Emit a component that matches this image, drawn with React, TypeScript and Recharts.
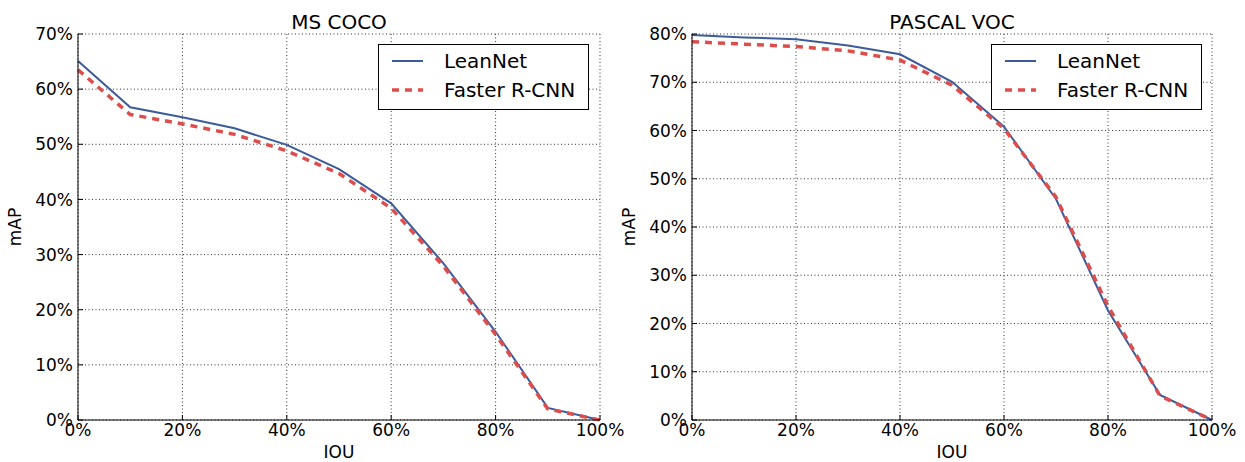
import React from 'react';
import { LineChart, Line, XAxis, YAxis, CartesianGrid, Legend } from 'recharts';

const iouValues = [0, 10, 20, 30, 40, 50, 60, 70, 80, 90, 100];
const cocoLeanNet = [65.1, 56.7, 54.9, 52.9, 49.9, 45.5, 39.3, 28.4, 16.0, 2.2, 0];
const cocoFaster = [63.5, 55.4, 53.7, 51.8, 48.8, 44.7, 38.4, 27.9, 15.5, 2.0, 0];
const vocLeanNet = [79.8, 79.3, 78.9, 77.6, 75.8, 70.1, 60.8, 45.8, 22.7, 5.2, 0];
const vocFaster = [78.4, 77.9, 77.4, 76.5, 74.6, 69.4, 60.4, 46.2, 23.6, 5.0, 0];
const xTicks = [0, 20, 40, 60, 80, 100];
const cocoYTicks = [0, 10, 20, 30, 40, 50, 60, 70];
const vocYTicks = [0, 10, 20, 30, 40, 50, 60, 70, 80];
const seriesNames = ['LeanNet', 'Faster R-CNN'];
const panelTitles = ['MS COCO', 'PASCAL VOC'];

const FONT = "'DejaVu Sans', sans-serif";
const BLUE = '#3b5b9b';
const RED = '#dc4d4b';
const TICK_FS = 17;
const TICK_LEN = 5;

const buildRows = (a: number[], b: number[]) =>
  iouValues.map((x, i) => ({ iou: x, lean: a[i], faster: b[i] }));

const LeftTick = (props: any) => {
  const { x, y, payload } = props;
  const ax = x + 5;
  return (
    <g>
      <line x1={ax} x2={ax + TICK_LEN} y1={y} y2={y} stroke="#000" strokeWidth={1} />
      <text x={x} y={y} dy="0.36em" textAnchor="end" fontSize={TICK_FS} fontFamily={FONT} fill="#000">
        {payload.value + '%'}
      </text>
    </g>
  );
};
const BottomTick = (props: any) => {
  const { x, y, payload } = props;
  const ay = y - 3;
  return (
    <g>
      <line x1={x} x2={x} y1={ay} y2={ay - TICK_LEN} stroke="#000" strokeWidth={1} />
      <text x={x} y={y} dy="0.76em" textAnchor="middle" fontSize={TICK_FS} fontFamily={FONT} fill="#000">
        {payload.value + '%'}
      </text>
    </g>
  );
};
const TopTick = (props: any) => {
  const { x, y } = props;
  return <line x1={x} x2={x} y1={y} y2={y + TICK_LEN} stroke="#000" strokeWidth={1} />;
};
const RightTick = (props: any) => {
  const { x, y } = props;
  return <line x1={x} x2={x - TICK_LEN} y1={y} y2={y} stroke="#000" strokeWidth={1} />;
};

const LegendBox = () => (
  <div
    style={{
      width: 209,
      height: 64,
      border: '1px solid #000',
      background: '#fff',
      position: 'relative',
      fontFamily: FONT,
      fontSize: 20,
      color: '#000',
    }}
  >
    <svg width={209} height={64} style={{ position: 'absolute', left: 0, top: 0 }}>
      <line x1={13} x2={44} y1={16} y2={16} stroke={BLUE} strokeWidth={2} />
      <line x1={13} x2={44} y1={45} y2={45} stroke={RED} strokeWidth={3.5} strokeDasharray="7 6" />
      <text x={65} y={16} dy="0.36em" fontSize={20} fontFamily={FONT}>{seriesNames[0]}</text>
      <text x={65} y={45} dy="0.36em" fontSize={20} fontFamily={FONT}>{seriesNames[1]}</text>
    </svg>
  </div>
);

type PanelProps = {
  rows: any[];
  yMax: number;
  yTicks: number[];
  width: number;
  yAxisWidth: number;
  marginRight: number;
  legendLeft: number;
  mapOffset: number;
};

const Panel = ({ rows, yMax, yTicks, width, yAxisWidth, marginRight, legendLeft, mapOffset }: PanelProps) => (
  <LineChart
    width={width}
    height={462}
    data={rows}
    margin={{ top: 34, right: marginRight, bottom: 0, left: 0 }}
  >
    <CartesianGrid stroke="#000" strokeOpacity={0.8} strokeDasharray="1 2.5" strokeWidth={1} />
    <XAxis
      dataKey="iou"
      type="number"
      domain={[0, 100]}
      ticks={xTicks}
      height={42}
      tickSize={0}
      tickMargin={3}
      tick={<BottomTick />}
      axisLine={{ stroke: '#000', strokeWidth: 1 }}
      tickLine={false}
      label={{ value: 'IOU', position: 'insideBottom', offset: 4, fontSize: 17, fontFamily: FONT, fill: '#000' }}
    />
    <XAxis
      xAxisId="top"
      orientation="top"
      type="number"
      domain={[0, 100]}
      allowDataOverflow
      ticks={xTicks}
      height={0}
      tickSize={0}
      tickMargin={0}
      tick={<TopTick />}
      axisLine={{ stroke: '#000', strokeWidth: 1 }}
      tickLine={false}
    />
    <YAxis
      type="number"
      domain={[0, yMax]}
      ticks={yTicks}
      width={yAxisWidth}
      tickSize={0}
      tickMargin={5}
      tick={<LeftTick />}
      axisLine={{ stroke: '#000', strokeWidth: 1 }}
      tickLine={false}
      label={{
        value: 'mAP',
        angle: -90,
        position: 'insideLeft',
        offset: mapOffset,
        fontSize: 17,
        fontFamily: FONT,
        fill: '#000',
        style: { textAnchor: 'middle' },
      }}
    />
    <YAxis
      yAxisId="right"
      orientation="right"
      type="number"
      domain={[0, yMax]}
      allowDataOverflow
      ticks={yTicks}
      width={0}
      tickSize={0}
      tickMargin={0}
      tick={<RightTick />}
      axisLine={{ stroke: '#000', strokeWidth: 1 }}
      tickLine={false}
    />
    <Line
      dataKey="lean"
      name={seriesNames[0]}
      stroke={BLUE}
      strokeWidth={2}
      dot={false}
      isAnimationActive={false}
    />
    <Line
      dataKey="faster"
      name={seriesNames[1]}
      stroke={RED}
      strokeWidth={3.5}
      strokeDasharray="7 6"
      dot={false}
      isAnimationActive={false}
    />
    <Legend
      layout="vertical"
      align="center"
      verticalAlign="middle"
      content={() => <LegendBox />}
      wrapperStyle={{ position: 'absolute', left: legendLeft, top: 44, width: 211, height: 66 }}
    />
  </LineChart>
);

export default function App() {
  return (
    <div style={{ position: 'absolute', left: 0, top: 0, width: 1245, height: 462, background: '#fff', fontFamily: FONT }}>
      <div style={{ position: 'absolute', left: 0, top: 0 }}>
        <Panel
          rows={buildRows(cocoLeanNet, cocoFaster)}
          yMax={70}
          yTicks={cocoYTicks}
          width={640}
          yAxisWidth={78}
          marginRight={40}
          legendLeft={378}
          mapOffset={15}
        />
      </div>
      <div style={{ position: 'absolute', left: 620, top: 0 }}>
        <Panel
          rows={buildRows(vocLeanNet, vocFaster)}
          yMax={80}
          yTicks={vocYTicks}
          width={625}
          yAxisWidth={72}
          marginRight={33}
          legendLeft={371}
          mapOffset={9}
        />
      </div>
      <svg width={1245} height={40} style={{ position: 'absolute', left: 0, top: 0, pointerEvents: 'none' }}>
        <text x={339} y={29} textAnchor="middle" fontSize={20} fontFamily={FONT} fill="#000">{panelTitles[0]}</text>
        <text x={952} y={29} textAnchor="middle" fontSize={20} fontFamily={FONT} fill="#000">{panelTitles[1]}</text>
      </svg>
    </div>
  );
}
